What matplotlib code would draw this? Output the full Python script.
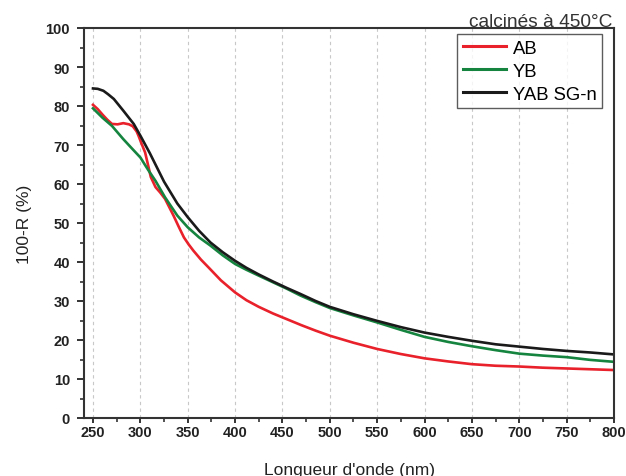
import matplotlib
matplotlib.use("Agg")
import matplotlib.pyplot as plt
from matplotlib.ticker import MultipleLocator

plt.rcParams['font.family'] = ['Liberation Sans', 'DejaVu Sans']

# AB series
wl_ab = [250, 255, 260, 265, 270, 276, 282, 288, 292, 296, 298, 301, 305, 308, 311, 316, 321, 326, 330, 335,
         340, 346, 351, 356, 364, 372, 385, 400, 412, 425, 440, 455, 470, 485, 500, 525, 550, 575, 600,
         625, 650, 675, 700, 725, 750, 775, 800]
ab = [80.3, 79.2, 77.8, 76.5, 75.4, 75.3, 75.6, 75.3, 74.8, 73.5, 72.4, 70.5, 68.1, 65.0, 61.8, 59.2, 57.8, 56.2, 54.3, 51.9,
      49.3, 46.3, 44.5, 42.9, 40.6, 38.6, 35.3, 32.2, 30.2, 28.5, 26.8, 25.3, 23.8, 22.4, 21.1, 19.3, 17.7, 16.4, 15.3,
      14.5, 13.8, 13.4, 13.2, 12.9, 12.7, 12.5, 12.3]

# YB series
wl_yb = [250, 260, 270, 282, 290, 300, 308, 316, 326, 339, 350, 362, 374, 387, 400, 412, 425, 440, 455, 469,
         485, 500, 525, 550, 575, 600, 625, 650, 675, 700, 725, 750, 775, 800]
yb = [79.4, 77.0, 74.9, 71.5, 69.4, 66.8, 63.7, 60.8, 56.6, 51.9, 48.9, 46.3, 44.2, 41.7, 39.5, 38.0, 36.5, 34.8, 33.1, 31.4,
      29.7, 28.2, 26.3, 24.5, 22.6, 20.8, 19.5, 18.4, 17.4, 16.5, 16.0, 15.6, 14.9, 14.4]

# YAB SG-n series
wl_yab = [250, 255, 261, 266, 272, 282, 293, 300, 310, 318, 325, 332, 339, 350, 362, 374, 387, 400, 412, 425,
          440, 455, 469, 485, 500, 525, 550, 575, 600, 625, 650, 675, 700, 725, 750, 775, 800]
yab = [84.5, 84.4, 83.9, 83.0, 81.8, 78.8, 75.4, 72.4, 67.9, 64.0, 60.6, 57.8, 55.0, 51.5, 48.0, 45.0, 42.5, 40.3, 38.5, 36.8,
       35.0, 33.3, 31.8, 30.0, 28.5, 26.6, 24.9, 23.3, 21.9, 20.8, 19.8, 18.9, 18.3, 17.7, 17.2, 16.8, 16.3]

x_ticks = list(range(250, 801, 50))
y_ticks = list(range(0, 101, 10))

fig = plt.figure(figsize=(6.26, 4.77), dpi=100)
ax = fig.add_axes([84/626, 1 - 419/477, (614-84)/626, (419-29)/477])

ax.plot(wl_ab, ab, color='#e8212b', lw=1.9, label='AB')
ax.plot(wl_yb, yb, color='#15843e', lw=1.9, label='YB')
ax.plot(wl_yab, yab, color='#1a1a1a', lw=1.9, label='YAB SG-n')

ax.set_xlim(240.5, 800)
ax.set_ylim(0, 100)
ax.set_xticks(x_ticks)
ax.set_yticks(y_ticks)
ax.xaxis.set_minor_locator(MultipleLocator(25))
ax.yaxis.set_minor_locator(MultipleLocator(5))

for x in x_ticks[:-1]:
    ax.axvline(x, color='#c8c8c8', lw=0.8, ls=(0, (3, 3)), zorder=0)

for s in ax.spines.values():
    s.set_color('#333333')
    s.set_linewidth(1.5)

ax.tick_params(which='both', color='#333333', top=False, right=False, direction='out')
ax.tick_params(axis='x', which='major', length=3.8, width=1.4, labelsize=10.5, labelcolor='#222222', pad=1.5)
ax.tick_params(axis='x', which='minor', length=2.8, width=1.2)
ax.tick_params(axis='y', which='major', length=5, width=1.4, labelsize=10.5, labelcolor='#222222', pad=5)
ax.tick_params(axis='y', which='minor', length=2.8, width=1.2)
for lab in ax.get_xticklabels() + ax.get_yticklabels():
    lab.set_fontweight('bold')

ax.set_xlabel("Longueur d'onde (nm)", fontsize=12.5, color='#222222', labelpad=16)
ax.set_ylabel("100-R (%)", fontsize=12.5, color='#222222', labelpad=10)

fig.text(612/626, 1 - 27.3/477, 'calcinés à 450°C', ha='right', va='baseline', fontsize=13.8, color='#333333')

leg = ax.legend(loc='upper right', bbox_to_anchor=((602-84)/530, (419-35)/390), fontsize=13.3,
                frameon=True, fancybox=False, handlelength=2.35, handletextpad=0.35,
                borderpad=0.3, labelspacing=0.33, borderaxespad=0)
leg.get_frame().set_edgecolor('#333333')
leg.get_frame().set_linewidth(1.0)
for line in leg.get_lines():
    line.set_linewidth(2.2)

fig.savefig('out.png', dpi=100)
